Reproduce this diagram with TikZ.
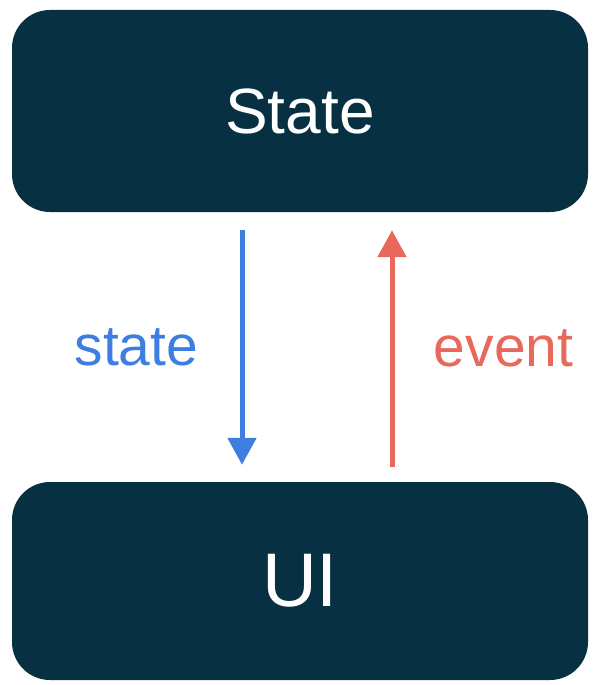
\documentclass[tikz,border=0pt]{standalone}
\usepackage{fontspec}
\setmainfont{Liberation Sans}
\usetikzlibrary{arrows.meta}
\definecolor{navy}{HTML}{073042}
\definecolor{stateblue}{HTML}{3D7EE0}
\definecolor{eventred}{HTML}{E8685C}

\begin{document}
\begin{tikzpicture}[x=1pt,y=-1pt,
    box/.style={fill=navy,text=white,rounded corners=38pt,minimum width=576pt,inner sep=0pt},
    flow/.style={line width=5pt,-{Triangle[width=28pt,length=27pt]}},
    lbl/.style={font=\fontsize{57}{68}\selectfont}]
  \useasboundingbox (0,0) rectangle (600,685);
  \node[box,minimum height=202pt,font=\fontsize{64}{76}\selectfont] (St) at (300,111) {State};
  \node[box,minimum height=198pt,font=\fontsize{76}{90}\selectfont] (UI) at (300,581) {UI};
  % state flows down, events flow up
  \draw[flow,stateblue] ([xshift=-58pt,yshift=-18pt]St.south) to node[lbl,left=38pt]{state} ([xshift=-58pt,yshift=17pt]UI.north);
  \draw[flow,eventred] ([xshift=92pt,yshift=15pt]UI.north) to node[lbl,right=36pt]{event} ([xshift=92pt,yshift=-18pt]St.south);
\end{tikzpicture}
\end{document}
